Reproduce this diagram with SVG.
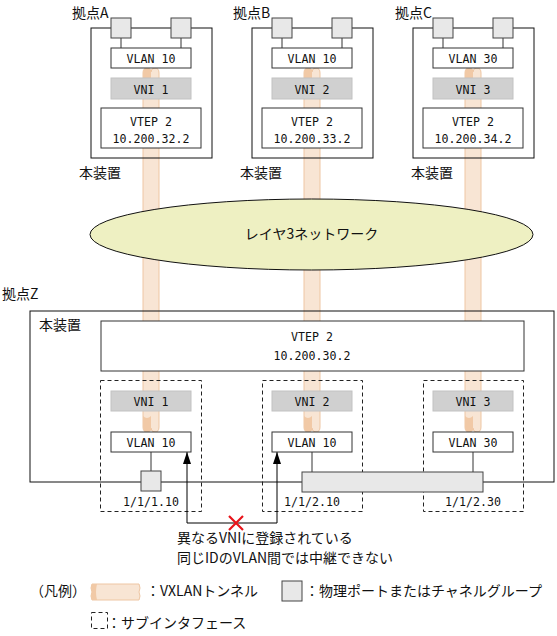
<svg xmlns="http://www.w3.org/2000/svg" width="557" height="636" viewBox="0 0 557 636">
<style>
text{font-family:"Noto Sans CJK JP","Noto Sans",sans-serif;fill:#111}
.j{font-size:14px}
.m{font-family:"DejaVu Sans Mono","Liberation Mono",monospace;font-size:11.6px;text-anchor:middle}
.box{fill:#fff;stroke:#333;stroke-width:1}
.frame{fill:none;stroke:#111;stroke-width:1}
.vni{fill:#d0d0d0;stroke:#c2c2c2;stroke-width:1}
.port{fill:#e8e8e8;stroke:#444;stroke-width:1}
.dash{fill:none;stroke:#222;stroke-width:1;stroke-dasharray:4 3}
.tun{fill:#f8e5d4;stroke:#eec6a3;stroke-width:1}
.lobe{fill:#f1c9a6}
.ln{fill:none;stroke:#333;stroke-width:1}
.arw{fill:none;stroke:#000;stroke-width:1}
</style>
<defs>
<marker id="ah" viewBox="0 0 12 8" refX="12" refY="4" markerWidth="12" markerHeight="8" markerUnits="userSpaceOnUse" orient="auto"><path d="M0,0 L12,4 L0,8 z" fill="#000"/></marker>
<path id="tube" d="M0,5 Q0,0 4,0 Q8,0 8,4 Q8,0 12,0 Q16,0 16,5 L16,359 Q16,364 12,364 Q8,364 8,360 Q8,364 4,364 Q0,364 0,359 Z"/>
</defs>

<g id="tunnels">
<g transform="translate(143,68)"><use href="#tube" class="tun"/><path class="lobe" d="M0,5 Q0,0 4,0 Q8,0 8,4 L8,12 Q4,8 0,12 Z"/><path class="lobe" d="M0,359 Q0,364 4,364 Q8,364 8,360 L8,348 Q4,352 0,348 Z"/></g>
<g transform="translate(304,68)"><use href="#tube" class="tun"/><path class="lobe" d="M0,5 Q0,0 4,0 Q8,0 8,4 L8,12 Q4,8 0,12 Z"/><path class="lobe" d="M0,359 Q0,364 4,364 Q8,364 8,360 L8,348 Q4,352 0,348 Z"/></g>
<g transform="translate(465,68)"><use href="#tube" class="tun"/><path class="lobe" d="M0,5 Q0,0 4,0 Q8,0 8,4 L8,12 Q4,8 0,12 Z"/><path class="lobe" d="M0,359 Q0,364 4,364 Q8,364 8,360 L8,348 Q4,352 0,348 Z"/></g>
</g>

<g id="network">
<ellipse cx="311.5" cy="234.5" rx="221.5" ry="35.5" fill="#eef0c2" stroke="#111" stroke-width="1"/>
<text class="j" x="311.5" y="239" text-anchor="middle">レイヤ3ネットワーク</text>
</g>

<g id="siteA">
<text class="j" x="72" y="18">拠点A</text>
<rect class="frame" x="91" y="28" width="121" height="130"/>
<text class="j" x="79" y="178">本装置</text>
<rect class="vni" x="111" y="78" width="80" height="21"/>
<text class="m" x="151" y="93.5">VNI 1</text>
<rect class="box" x="101" y="108" width="100" height="40"/>
<text class="m" x="151" y="125.5">VTEP 2</text>
<text class="m" x="151" y="142.5">10.200.32.2</text>
</g>
<g id="siteB">
<text class="j" x="233" y="18">拠点B</text>
<rect class="frame" x="252" y="28" width="121" height="130"/>
<text class="j" x="240" y="178">本装置</text>
<rect class="vni" x="272" y="78" width="80" height="21"/>
<text class="m" x="312" y="93.5">VNI 2</text>
<rect class="box" x="262" y="108" width="100" height="40"/>
<text class="m" x="312" y="125.5">VTEP 2</text>
<text class="m" x="312" y="142.5">10.200.33.2</text>
</g>
<g id="siteC">
<text class="j" x="395" y="18">拠点C</text>
<rect class="frame" x="413" y="28" width="121" height="130"/>
<text class="j" x="411" y="178">本装置</text>
<rect class="vni" x="433" y="78" width="80" height="21"/>
<text class="m" x="473" y="93.5">VNI 3</text>
<rect class="box" x="423" y="108" width="100" height="40"/>
<text class="m" x="473" y="125.5">VTEP 2</text>
<text class="m" x="473" y="142.5">10.200.34.2</text>
</g>

<g id="siteZ">
<text class="j" x="2" y="299">拠点Z</text>
<rect class="frame" x="30" y="311" width="524" height="171"/>
<text class="j" x="39" y="330">本装置</text>
<rect class="box" x="101" y="321" width="423" height="50"/>
<text class="m" x="312" y="340.5">VTEP 2</text>
<text class="m" x="312" y="359.5">10.200.30.2</text>
</g>

<g id="subif1">
<rect class="dash" x="100.5" y="380.5" width="101" height="131"/>
<rect class="vni" x="111" y="391" width="80" height="20"/>
<text class="m" x="151" y="405.5">VNI 1</text>
<text class="m" x="151" y="505.5">1/1/1.10</text>
</g>
<g id="subif2">
<rect class="dash" x="262.5" y="380.5" width="100" height="131"/>
<rect class="vni" x="272" y="391" width="80" height="20"/>
<text class="m" x="312" y="405.5">VNI 2</text>
<text class="m" x="312" y="505.5">1/1/2.10</text>
</g>
<g id="subif3">
<rect class="dash" x="423.5" y="380.5" width="100" height="131"/>
<rect class="vni" x="433" y="391" width="80" height="20"/>
<text class="m" x="473" y="405.5">VNI 3</text>
<text class="m" x="473" y="505.5">1/1/2.30</text>
</g>

<g id="connectors">
<path class="ln" d="M121,38V48M181,38V48M282,38V48M342,38V48M443,38V48M503,38V48"/>
<path class="ln" d="M151,452V471M312,452V472M473,452V472"/>
<path class="arw" d="M236,523H187V452" marker-end="url(#ah)"/>
<path class="arw" d="M236,523H277V452" marker-end="url(#ah)"/>
<path d="M229,516L243,530M243,516L229,530" stroke="#e8141a" stroke-width="2.2" fill="none"/>
</g>

<g id="vlans">
<g id="vlanA"><rect class="box" x="111" y="48" width="80" height="20"/><text class="m" x="151" y="62.5">VLAN 10</text></g>
<g id="vlanB"><rect class="box" x="272" y="48" width="80" height="20"/><text class="m" x="312" y="62.5">VLAN 10</text></g>
<g id="vlanC"><rect class="box" x="433" y="48" width="80" height="20"/><text class="m" x="473" y="62.5">VLAN 30</text></g>
<g id="vlanZ1"><rect class="box" x="111" y="432" width="80" height="20"/><text class="m" x="151" y="446.5">VLAN 10</text></g>
<g id="vlanZ2"><rect class="box" x="272" y="432" width="80" height="20"/><text class="m" x="312" y="446.5">VLAN 10</text></g>
<g id="vlanZ3"><rect class="box" x="433" y="432" width="80" height="20"/><text class="m" x="473" y="446.5">VLAN 30</text></g>
</g>

<g id="ports">
<rect class="port" x="111" y="18" width="20" height="20"/>
<rect class="port" x="171" y="18" width="20" height="20"/>
<rect class="port" x="272" y="18" width="20" height="20"/>
<rect class="port" x="332" y="18" width="20" height="20"/>
<rect class="port" x="433" y="18" width="20" height="20"/>
<rect class="port" x="493" y="18" width="20" height="20"/>
<rect class="port" x="141" y="471" width="20" height="20"/>
<rect class="port" x="302" y="472" width="181" height="20"/>
</g>

<g id="note">
<text class="j" x="177" y="543">異なるVNIに登録されている</text>
<text class="j" x="177" y="563">同じIDのVLAN間では中継できない</text>
</g>

<g id="legend">
<text class="j" x="30" y="596">（凡例）</text>
<path class="tun" d="M92,584 L139,584 Q141,588 139,592 Q141,596 139,600 L92,600 Q90,596 92,592 Q90,588 92,584 Z"/>
<path class="lobe" d="M92,584 Q90,588 92,592 Q90,596 92,600 L97,600 Q95,592 97,584 Z"/>
<text class="j" x="146" y="596">：VXLANトンネル</text>
<rect class="port" x="282" y="581" width="20" height="20"/>
<text class="j" x="305" y="596">：物理ポートまたはチャネルグループ</text>
<rect class="dash" x="91.5" y="612.5" width="16" height="16"/>
<text class="j" x="107" y="628">：サブインタフェース</text>
</g>
</svg>
